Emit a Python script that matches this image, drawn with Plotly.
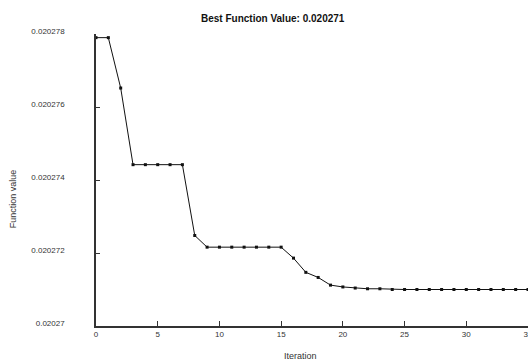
import plotly.graph_objects as go

iterations = list(range(36))
function_values = [
    0.0202779, 0.0202779, 0.02027652, 0.02027442, 0.02027442, 0.02027442,
    0.02027442, 0.02027442, 0.02027248, 0.02027216, 0.02027216, 0.02027216,
    0.02027216, 0.02027216, 0.02027216, 0.02027216, 0.02027186, 0.02027147,
    0.02027133, 0.02027112, 0.02027107, 0.02027104, 0.02027102, 0.02027102,
    0.020271, 0.020271, 0.020271, 0.020271, 0.020271, 0.020271,
    0.020271, 0.020271, 0.020271, 0.020271, 0.020271, 0.020271,
]
y_tick_vals = [0.02027, 0.020272, 0.020274, 0.020276, 0.020278]
y_tick_text = ["0.02027", "0.020272", "0.020274", "0.020276", "0.020278"]
x_tick_vals = [0, 5, 10, 15, 20, 25, 30, 35]
title_text = "Best Function Value: 0.020271"
x_title = "Iteration"
y_title = "Function value"

FONT = "Liberation Sans, Arial, sans-serif"

W, H = 528, 361
L, R, T = 96, 0, 33.5
B = H - 326
pw = W - L - R
ph = H - T - B

fig = go.Figure()
fig.add_trace(go.Scatter(
    x=iterations, y=function_values, mode="lines+markers",
    line=dict(color="#111111", width=1),
    marker=dict(symbol="square", size=3, color="#111111"),
    showlegend=False, cliponaxis=False, hoverinfo="skip",
))


def px_x(v):
    return (v - L) / pw


def px_y(v):
    return (H - B - v) / ph


fig.update_layout(
    width=W, height=H,
    margin=dict(l=L, r=R, t=T, b=B, pad=0),
    paper_bgcolor="white", plot_bgcolor="white",
    font=dict(family=FONT, size=8, color="#333333"),
    hovermode=False,
    xaxis=dict(
        range=[0, 35], tickvals=x_tick_vals, ticks="inside", ticklen=5,
        tickcolor="#333333", tickwidth=1, showline=True, linecolor="#333333",
        linewidth=1.5, showgrid=False, zeroline=False, tickfont=dict(size=8),
        automargin=False, ticklabeloverflow="allow",
    ),
    yaxis=dict(
        range=[0.02027, 0.020278], tickvals=y_tick_vals, ticktext=y_tick_text,
        ticks="inside", ticklen=4, tickcolor="#333333", tickwidth=1,
        showline=True, linecolor="#333333", linewidth=1.5, showgrid=False,
        zeroline=False, tickfont=dict(size=8), ticklabelstandoff=28,
        ticklabelshift=-3, automargin=False,
    ),
    annotations=[
        dict(text="<b>" + title_text + "</b>", xref="paper", yref="paper",
             x=px_x(273), y=px_y(18.3), xanchor="center",
             yanchor="middle", showarrow=False,
             font=dict(size=10, color="#111111", family=FONT)),
        dict(text=x_title, xref="paper", yref="paper",
             x=px_x(300), y=px_y(355.7), xanchor="center",
             yanchor="middle", showarrow=False,
             font=dict(size=9, color="#333333", family=FONT)),
        dict(text=y_title, xref="paper", yref="paper", textangle=-90,
             x=px_x(13), y=px_y(199), xanchor="center",
             yanchor="middle", showarrow=False,
             font=dict(size=9, color="#333333", family=FONT)),
    ],
)

fig.write_html(
    "out.html",
    config={"displayModeBar": False},
    post_script="document.body.style.margin='0';document.body.style.overflow='hidden';",
)
